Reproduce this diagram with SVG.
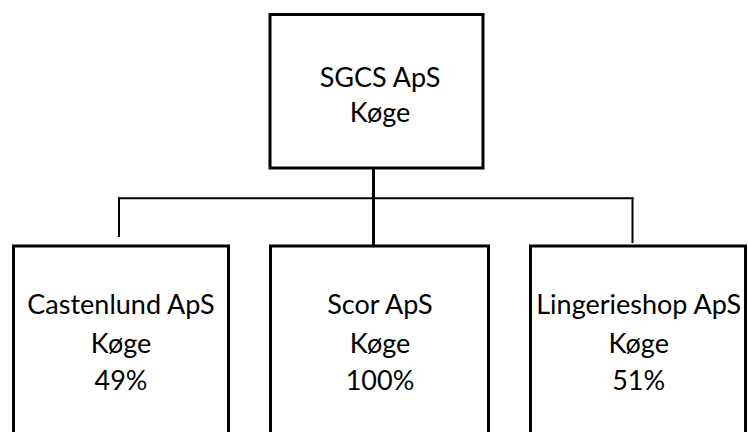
<svg xmlns="http://www.w3.org/2000/svg" width="748" height="432" viewBox="0 0 748 432">
  <style>
    .box { fill: #ffffff; stroke: #000000; stroke-width: 3; }
    .thick { stroke: #000000; stroke-width: 3; fill: none; }
    .thin { stroke: #000000; stroke-width: 2; fill: none; }
    text { font-family: Lato, "Liberation Sans", sans-serif; font-size: 27px; fill: #000000; text-anchor: middle; }
  </style>
  <rect width="748" height="432" fill="#ffffff"/>
  <g id="connectors">
    <line class="thick" x1="373.5" y1="168" x2="373.5" y2="246"/>
    <line class="thin" x1="118" y1="198.3" x2="633.5" y2="198.3"/>
    <line class="thin" x1="119" y1="197.3" x2="119" y2="237"/>
    <line class="thin" x1="632.5" y1="197.3" x2="632.5" y2="243"/>
  </g>
  <g id="node-sgcs">
    <rect class="box" x="270" y="14.5" width="213" height="153.5"/>
    <text x="380" y="86.7">SGCS ApS</text>
    <text x="380" y="121.7">Køge</text>
  </g>
  <g id="node-castenlund">
    <rect class="box" x="13.5" y="246" width="215" height="200"/>
    <text x="121" y="314.3">Castenlund ApS</text>
    <text x="121" y="353.3">Køge</text>
    <text x="121" y="390">49%</text>
  </g>
  <g id="node-scor">
    <rect class="box" x="270.5" y="246" width="218" height="200"/>
    <text x="380" y="314.3">Scor ApS</text>
    <text x="380" y="353.3">Køge</text>
    <text x="380" y="390">100%</text>
  </g>
  <g id="node-lingerieshop">
    <rect class="box" x="530.5" y="246" width="215" height="200"/>
    <text x="638.7" y="314.3">Lingerieshop ApS</text>
    <text x="638.7" y="353.3">Køge</text>
    <text x="638.7" y="390">51%</text>
  </g>
</svg>
